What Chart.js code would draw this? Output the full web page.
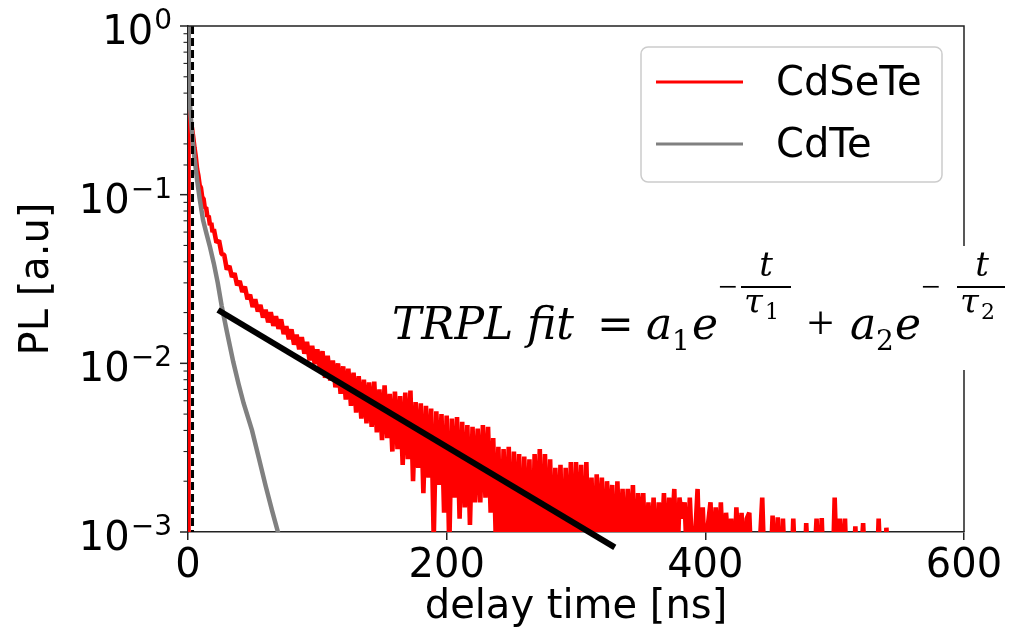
<!DOCTYPE html>
<html>
<head>
<meta charset="utf-8">
<script src="https://cdn.jsdelivr.net/npm/chart.js@4.4.0/dist/chart.umd.min.js"></script>
<style>
  html, body { margin: 0; padding: 0; background: #fff; }
  #wrap { width: 1019px; height: 640px; }
</style>
</head>
<body>
<div id="wrap"><canvas id="trplChart" width="1019" height="640"></canvas></div>
<script>
// ---- values (x: delay time in ns, y: normalised PL) ----

// CdSeTe, first ns (dense part of the decay)
var cdseteEarlyT  = [0, 0.2, 0.5, 1, 2, 3, 4, 5, 6, 7, 8, 9, 10, 11, 12, 13, 14, 15, 16, 17, 18, 19];
var cdseteEarlyPL = [0.0005, 1.0, 0.31, 0.29, 0.27, 0.25, 0.22, 0.19, 0.168, 0.142, 0.130, 0.114,
                     0.110, 0.096, 0.095, 0.083, 0.084, 0.074, 0.075, 0.066, 0.068, 0.060];

// CdSeTe, noisy tail sampled every 2 ns from 20 ns
var cdseteTailStart = 20;
var cdseteTailStep  = 2;
var cdseteTailPL = [
  0.0625, 0.0520, 0.0535, 0.0445, 0.0440, 0.0360, 0.0378, 0.0325, 0.0342, 0.0290,
  0.0308, 0.0265, 0.0285, 0.0240, 0.0255, 0.0216, 0.0240, 0.0203, 0.0222, 0.0187,
  0.0208, 0.0175, 0.0201, 0.0167, 0.0190, 0.0160, 0.0182, 0.0149, 0.0166, 0.0139,
  0.0159, 0.0129, 0.0148, 0.0121, 0.0143, 0.0114, 0.0134, 0.0104, 0.0127, 0.0099,
  0.0121, 0.0093, 0.0118, 0.0082, 0.0111, 0.0079, 0.0104, 0.0072, 0.0100, 0.0066,
  0.0096, 0.0061, 0.0093, 0.0056, 0.0088, 0.0051, 0.0084, 0.0047, 0.0080, 0.0044,
  0.0077, 0.0042, 0.0078, 0.0039, 0.0070, 0.0035, 0.0074, 0.0036, 0.0066, 0.0030,
  0.0068, 0.0031, 0.0064, 0.0025, 0.0067, 0.0027, 0.0069, 0.0020, 0.0059, 0.0024,
  0.0058, 0.0017, 0.0056, 0.0021, 0.0054, 0.0009, 0.0052, 0.0019, 0.0050, 0.0013,
  0.0049, 0.0008, 0.0047, 0.0016, 0.0048, 0.0012, 0.0045, 0.0014, 0.0043, 0.0011,
  0.0042, 0.0015, 0.0041, 0.0015, 0.0043, 0.0016, 0.0042, 0.0013, 0.0036, 0.0009,
  0.0032, 0.0007, 0.0031, 0.0010, 0.0032, 0.0006, 0.0030, 0.0009, 0.0029, 0.0006,
  0.0028, 0.0008, 0.0027, 0.0005, 0.0029, 0.0009, 0.0031, 0.0006, 0.0029, 0.0007,
  0.0027, 0.0006, 0.0024, 0.0008, 0.0025, 0.0005, 0.0024, 0.0007, 0.0026, 0.0006,
  0.0026, 0.0008, 0.0025, 0.0005, 0.0026, 0.0007, 0.0021, 0.0006, 0.0022, 0.0008,
  0.0021, 0.0006, 0.0020, 0.0009, 0.0019, 0.0005, 0.0020, 0.0007, 0.0018, 0.0006,
  0.0018, 0.0008, 0.0019, 0.0005, 0.0017, 0.0010, 0.0017, 0.0006, 0.0015, 0.0007,
  0.0016, 0.0005, 0.0015, 0.0008, 0.0017, 0.0006, 0.0016, 0.0009, 0.0018, 0.0005,
  0.0016, 0.0012, 0.0015, 0.0006, 0.0016, 0.0007, 0.0009, 0.0018, 0.0005, 0.0014,
  0.0006, 0.0011, 0.0015, 0.0006, 0.0014, 0.0007, 0.0015, 0.0006, 0.0013, 0.0008,
  0.0012, 0.0005, 0.0014, 0.0007, 0.0013, 0.0006, 0.0012, 0.0013, 0.0005, 0.0009,
  0.0005, 0.0008, 0.0016, 0.0005, 0.0009, 0.0005, 0.00125, 0.0005, 0.00122, 0.0004,
  0.0012, 0.0005, 0.0008, 0.0004, 0.0012, 0.0005, 0.0007, 0.0005, 0.0004, 0.00113,
  0.0005, 0.0004, 0.0006, 0.0012, 0.0005, 0.00121, 0.0004, 0.0006, 0.0005, 0.0004,
  0.0016, 0.0005, 0.0012, 0.0006, 0.0012, 0.0004, 0.0007, 0.0005, 0.00108, 0.0004,
  0.0006, 0.00113, 0.0005, 0.0004, 0.0006, 0.0005, 0.0004, 0.0012, 0.0005, 0.0004,
  0.00106, 0.0005, 0.0004
];

// CdTe
var cdteT  = [0.2, 0.6, 1, 2, 3, 4, 5, 7, 9, 11.6, 14, 17, 20, 23, 26, 30, 35, 39, 43, 49.5, 55, 60, 65, 70, 72];
var cdtePL = [1.0, 0.55, 0.40, 0.30, 0.24, 0.20, 0.165, 0.123, 0.095, 0.071, 0.060, 0.049, 0.039,
              0.030, 0.022, 0.0155, 0.0102, 0.0076, 0.0058, 0.0040, 0.0027, 0.00188, 0.00134, 0.00097, 0.00084];

// straight fit line drawn over the tail
var fitT  = [23.2, 330];
var fitPL = [0.0207, 0.00081];

// dashed marker at the excitation pulse
var pulseT  = [3.5, 3.5];
var pulsePL = [1, 0.001];

var yPowers = [0, -1, -2, -3];

function toPoints(ts, vs) {
  var out = [];
  ts.forEach(function(t, i) { out.push({x: t, y: vs[i]}); });
  return out;
}

var cdsetePts = toPoints(cdseteEarlyT, cdseteEarlyPL);
cdseteTailPL.forEach(function(v, i) {
  cdsetePts.push({x: cdseteTailStart + i * cdseteTailStep, y: v});
});

var SANS  = '"DejaVu Sans", sans-serif';
var SERIF = '"DejaVu Serif", serif';
var TIMES = '"Liberation Serif", serif';

// formula pieces: text, x, baseline, size, italic, family, align
var formulaPieces = [
  ['TRPL',   392, 339, 44, true,  SERIF, 'left'],
  ['fit',    527, 339, 44, true,  SERIF, 'left'],
  ['=',      597, 339, 44, false, SERIF, 'left'],
  ['a',      646, 339, 44, true,  SERIF, 'left'],
  ['1',      672, 350, 28, false, SERIF, 'left'],
  ['e',      692, 339, 44, true,  SERIF, 'left'],
  ['\u2212', 718, 298, 34, false, TIMES, 'left'],
  ['t',      766, 276, 34, true,  SERIF, 'center'],
  ['\u03c4', 744, 313, 34, true,  SERIF, 'left'],
  ['1',      765, 319, 22, false, SERIF, 'left'],
  ['+',      807, 339, 48, false, TIMES, 'left'],
  ['a',      850, 339, 44, true,  SERIF, 'left'],
  ['2',      876, 350, 28, false, SERIF, 'left'],
  ['e',      895, 339, 44, true,  SERIF, 'left'],
  ['\u2212', 921, 298, 34, false, TIMES, 'left'],
  ['t',      982, 276, 34, true,  SERIF, 'center'],
  ['\u03c4', 960, 313, 34, true,  SERIF, 'left'],
  ['2',      981, 319, 22, false, SERIF, 'left']
];
var fracBars = [[741, 791, 287], [957, 1005, 287]];

var decor = {
  id: 'decor',
  afterDraw: function(chart) {
    var ctx = chart.ctx, a = chart.chartArea, ys = chart.scales.y;
    ctx.save();

    // top and right spines
    ctx.strokeStyle = '#222';
    ctx.lineWidth = 1.5;
    ctx.beginPath();
    ctx.moveTo(a.left, a.top);
    ctx.lineTo(a.right, a.top);
    ctx.lineTo(a.right, a.bottom);
    ctx.stroke();

    // log ticks, major and minor
    ys.ticks.forEach(function(tk) {
      var py = ys.getPixelForValue(tk.value);
      var lg = Math.log10(tk.value);
      var major = Math.abs(lg - Math.round(lg)) < 1e-6;
      var len = major ? 8 : 4.5;
      ctx.lineWidth = major ? 1.5 : 1.1;
      ctx.beginPath();
      ctx.moveTo(a.left - len, py);
      ctx.lineTo(a.left, py);
      ctx.stroke();
    });

    // 10^n labels
    ctx.fillStyle = '#000';
    ctx.textAlign = 'left';
    ctx.textBaseline = 'alphabetic';
    yPowers.forEach(function(p) {
      var py = ys.getPixelForValue(Math.pow(10, p));
      var expTxt = p < 0 ? '\u2212' + (-p) : String(p);
      ctx.font = '40px ' + SANS;
      var wb = ctx.measureText('10').width;
      ctx.font = '28px ' + SANS;
      var we = ctx.measureText(expTxt).width;
      var x0 = a.left - 16 - wb - we - 1;
      ctx.font = '40px ' + SANS;
      ctx.fillText('10', x0, py + 18);
      ctx.font = '28px ' + SANS;
      ctx.fillText(expTxt, x0 + wb + 1, py + 3);
    });

    // formula on a white patch
    ctx.fillStyle = '#fff';
    ctx.fillRect(382, 246, 1019 - 382, 124);
    ctx.fillStyle = '#000';
    formulaPieces.forEach(function(p) {
      ctx.font = (p[4] ? 'italic ' : '') + p[3] + 'px ' + p[5];
      ctx.textAlign = p[6];
      ctx.fillText(p[0], p[1], p[2]);
    });
    ctx.textAlign = 'left';
    ctx.lineWidth = 2;
    ctx.strokeStyle = '#000';
    fracBars.forEach(function(b) {
      ctx.beginPath();
      ctx.moveTo(b[0], b[2]);
      ctx.lineTo(b[1], b[2]);
      ctx.stroke();
    });

    // legend
    var lx = 641, ly = 47, lw = 301, lh = 135;
    ctx.fillStyle = 'rgba(255,255,255,0.8)';
    ctx.strokeStyle = '#cccccc';
    ctx.lineWidth = 1.5;
    ctx.beginPath();
    ctx.roundRect(lx, ly, lw, lh, 7);
    ctx.fill();
    ctx.stroke();
    var items = chart.data.datasets.filter(function(d) { return d.inLegend; });
    items.sort(function(p, q) { return p.legendRank - q.legendRank; });
    items.forEach(function(d, i) {
      var cy = 82 + i * 62;
      ctx.strokeStyle = d.borderColor;
      ctx.lineWidth = 3;
      ctx.beginPath();
      ctx.moveTo(656, cy);
      ctx.lineTo(743, cy);
      ctx.stroke();
      ctx.fillStyle = '#000';
      ctx.font = '40px ' + SANS;
      ctx.fillText(d.label, 776, cy + 13);
    });

    ctx.restore();
  }
};

new Chart(document.getElementById('trplChart'), {
  type: 'scatter',
  data: {
    datasets: [
      {
        label: 'fit', data: toPoints(fitT, fitPL),
        showLine: true, borderColor: '#000000', borderWidth: 6, pointRadius: 0,
        clip: false, order: 0
      },
      {
        label: 'pulse', data: toPoints(pulseT, pulsePL),
        showLine: true, borderColor: '#000000', borderWidth: 3, borderDash: [8, 4],
        pointRadius: 0, order: 1
      },
      {
        label: 'CdTe', data: toPoints(cdteT, cdtePL), inLegend: true, legendRank: 1,
        showLine: true, borderColor: '#808080', borderWidth: 4.5, pointRadius: 0, order: 2
      },
      {
        label: 'CdSeTe', data: cdsetePts, inLegend: true, legendRank: 0,
        showLine: true, borderColor: '#ff0000', borderWidth: 4.6, pointRadius: 0,
        borderJoinStyle: 'bevel', order: 3
      }
    ]
  },
  options: {
    responsive: false,
    animation: false,
    devicePixelRatio: 1,
    layout: { padding: { top: 26, right: 55, left: 0, bottom: 0 } },
    plugins: { legend: { display: false }, tooltip: { enabled: false } },
    scales: {
      x: {
        type: 'linear', min: 0, max: 600,
        ticks: { stepSize: 200, color: '#000', font: { family: SANS, size: 40 }, padding: 3, maxRotation: 0 },
        grid: { drawOnChartArea: false, drawTicks: true, tickLength: 8, color: '#222', lineWidth: 1.5 },
        border: { display: true, color: '#222', width: 1.5 },
        title: { display: true, text: 'delay time [ns]', color: '#000',
                 font: { family: SANS, size: 40 }, padding: { top: 0, bottom: 8 } },
        afterFit: function(s) { s.height = 108; }
      },
      y: {
        type: 'logarithmic', min: 0.001, max: 1,
        ticks: { callback: function() { return ''; } },
        grid: { display: false },
        border: { display: true, color: '#222', width: 1.5 },
        title: { display: true, text: 'PL [a.u]', color: '#000',
                 font: { family: SANS, size: 40 }, padding: { top: 14, bottom: 0 } },
        afterFit: function(s) { s.width = 188; }
      }
    }
  },
  plugins: [decor]
});
</script>
</body>
</html>
